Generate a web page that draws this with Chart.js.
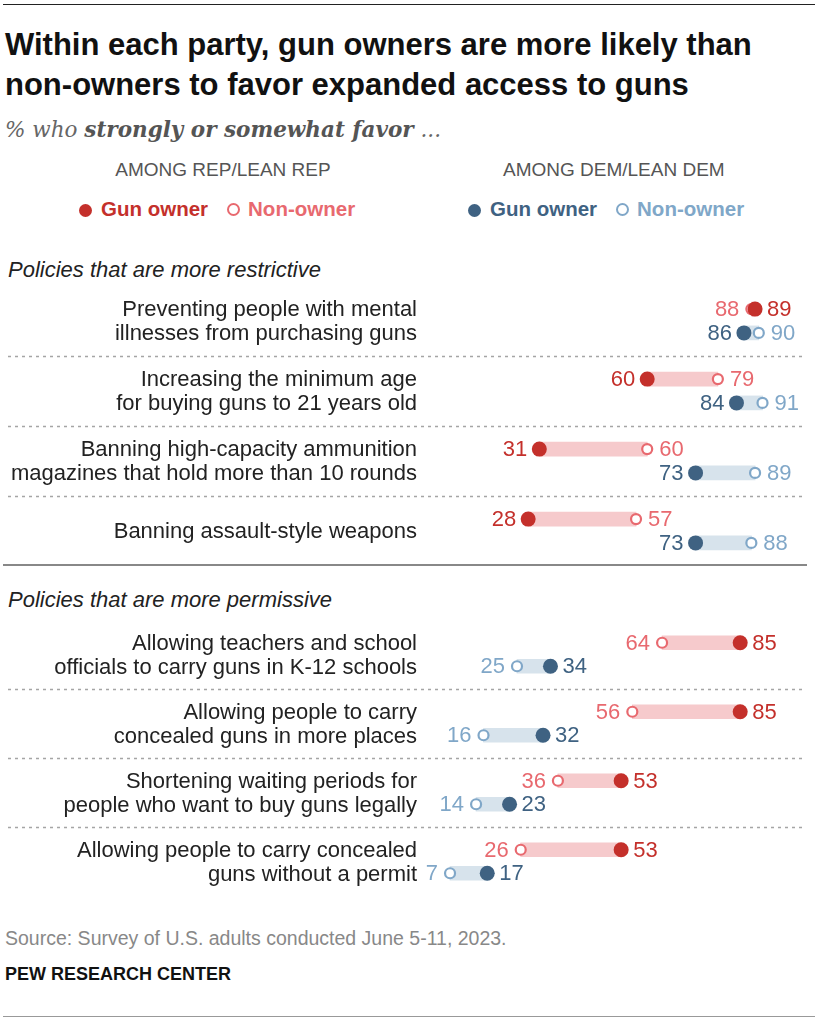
<!DOCTYPE html>
<html>
<head>
<meta charset="utf-8">
<script src="https://cdn.jsdelivr.net/npm/chart.js@4.4.1/dist/chart.umd.min.js"></script>
<style>
  body { margin: 0; background: #fff; }
  #page { position: relative; width: 821px; height: 1022px; overflow: hidden;
          font-family: "Liberation Sans", Arial, sans-serif; color: #222; }
  .t { position: absolute; white-space: nowrap; }
  .rule { position: absolute; left: 3px; width: 812px; }
  .dot { display: inline-block; width: 13px; height: 13px; border-radius: 50%; vertical-align: -1px; margin-right: 9px; }
  .ring { display: inline-block; width: 9px; height: 9px; border-radius: 50%; border: 2px solid; vertical-align: 0px; margin-right: 8px; margin-left: 19px; }
  canvas { position: absolute; left: 0; }
</style>
</head>
<body>
<div id="page">
  <div class="rule" style="top:4px;border-top:1px solid #222;"></div>

  <div class="t" style="left:5px;top:25px;font-weight:bold;font-size:31px;line-height:40px;color:#111;">
    Within each party, gun owners are more likely than<br>non-owners to favor expanded access to guns
  </div>
  <div class="t" style="left:5px;top:116px;line-height:28px;font-family:'DejaVu Serif',Georgia,serif;font-style:italic;font-size:21.5px;color:#666;">
    % who <b style="color:#555;">strongly or somewhat favor</b> ...
  </div>

  <div class="t" style="left:113px;width:220px;text-align:center;top:159px;line-height:22px;font-size:19px;color:#555;">AMONG REP/LEAN REP</div>
  <div class="t" style="left:503px;width:220px;text-align:center;top:159px;line-height:22px;font-size:19px;color:#555;">AMONG DEM/LEAN DEM</div>

  <div class="t" style="left:79px;top:197px;line-height:24px;font-size:20.5px;font-weight:bold;">
    <span class="dot" style="background:#c4302b"></span><span style="color:#c4302b">Gun owner</span><span class="ring" style="border-color:#e8696f"></span><span style="color:#e8696f">Non-owner</span>
  </div>
  <div class="t" style="left:468px;top:197px;line-height:24px;font-size:20.5px;font-weight:bold;">
    <span class="dot" style="background:#3f6282"></span><span style="color:#3f6282">Gun owner</span><span class="ring" style="border-color:#80a7c8"></span><span style="color:#80a7c8">Non-owner</span>
  </div>

  <div class="t" style="left:8px;top:258px;line-height:24px;font-size:22px;font-style:italic;">Policies that are more restrictive</div>
  <canvas id="restrictive" width="821" height="280" style="top:286px;"></canvas>
  <div class="rule" style="top:564px;width:804px;border-top:2px solid #888;"></div>

  <div class="t" style="left:8px;top:588px;line-height:24px;font-size:22px;font-style:italic;">Policies that are more permissive</div>
  <canvas id="permissive" width="821" height="276" style="top:620px;"></canvas>

  <div class="t" style="left:5px;top:927px;line-height:22px;font-size:19.5px;color:#888;">Source: Survey of U.S. adults conducted June 5-11, 2023.</div>
  <div class="t" style="left:5px;top:963px;line-height:22px;font-size:18px;font-weight:bold;color:#111;">PEW RESEARCH CENTER</div>
  <div class="rule" style="top:1016px;border-top:1px solid #999;"></div>
</div>

<script>
// Policies that are more restrictive
const restrictiveLabels = [
    ['Preventing people with mental', 'illnesses from purchasing guns'],
    ['Increasing the minimum age', 'for buying guns to 21 years old'],
    ['Banning high-capacity ammunition', 'magazines that hold more than 10 rounds'],
    ['Banning assault-style weapons']
];
const restrictiveRepOwner = [89, 60, 31, 28];
const restrictiveRepNon = [88, 79, 60, 57];
const restrictiveDemOwner = [86, 84, 73, 73];
const restrictiveDemNon = [90, 91, 89, 88];

// Policies that are more permissive
const permissiveLabels = [
    ['Allowing teachers and school', 'officials to carry guns in K-12 schools'],
    ['Allowing people to carry', 'concealed guns in more places'],
    ['Shortening waiting periods for', 'people who want to buy guns legally'],
    ['Allowing people to carry concealed', 'guns without a permit']
];
const permissiveRepOwner = [85, 85, 53, 53];
const permissiveRepNon = [64, 56, 36, 26];
const permissiveDemOwner = [34, 32, 23, 17];
const permissiveDemNon = [25, 16, 14, 7];

const REP_OWNER = '#c4302b', REP_NON = '#e8696f', REP_BAR = '#f6cacc';
const DEM_OWNER = '#3f6282', DEM_NON = '#80a7c8', DEM_BAR = '#d7e3ec';
const ROW_OFFSET = 0.17;   // Rep row sits above the label center, Dem row below
const BODY_FONT = '"Liberation Sans", Arial, sans-serif';

function points(values, offset) {
    return values.map((v, i) => ({ x: v, y: i + offset }));
}
function spans(a, b, offset) {
    return a.map((v, i) => ({ x: [Math.min(v, b[i]), Math.max(v, b[i])], y: i + offset }));
}

// Policy names, right-aligned against the plot, centered on each pair of rows
const policyLabels = {
    id: 'policyLabels',
    afterDraw(chart, args, opts) {
        const { ctx, scales: { y } } = chart;
        ctx.save();
        ctx.font = '22px ' + BODY_FONT;
        ctx.fillStyle = '#222';
        ctx.textAlign = 'right';
        ctx.textBaseline = 'middle';
        opts.labels.forEach((lines, i) => {
            const cy = y.getPixelForValue(i);
            lines.forEach((line, k) => {
                ctx.fillText(line, 417, cy + (k - (lines.length - 1) / 2) * 24 + 1);
            });
        });
        ctx.restore();
    }
};

// Numbers next to each dot: lower value on the left, higher on the right
const valueLabels = {
    id: 'valueLabels',
    afterDatasetsDraw(chart, args, opts) {
        const { ctx, scales: { x, y } } = chart;
        ctx.save();
        ctx.font = '22px ' + BODY_FONT;
        ctx.textBaseline = 'middle';
        opts.groups.forEach(g => {
            g.owner.forEach((o, i) => {
                const n = g.non[i];
                const py = y.getPixelForValue(i + g.offset);
                const left = o < n ? [o, g.ownerColor] : [n, g.nonColor];
                const right = o < n ? [n, g.nonColor] : [o, g.ownerColor];
                ctx.fillStyle = left[1];
                ctx.textAlign = 'right';
                ctx.fillText(String(left[0]), x.getPixelForValue(left[0]) - 12, py + 1);
                ctx.fillStyle = right[1];
                ctx.textAlign = 'left';
                ctx.fillText(String(right[0]), x.getPixelForValue(right[0]) + 12, py + 1);
            });
        });
        ctx.restore();
    }
};

// Dotted separators between policies
const separators = {
    id: 'separators',
    beforeDatasetsDraw(chart, args, opts) {
        const { ctx, scales: { y } } = chart;
        ctx.save();
        ctx.strokeStyle = '#a5a5a5';
        ctx.lineWidth = 1.5;
        ctx.setLineDash([3, 4]);
        for (let i = 0; i < opts.count - 1; i++) {
            const py = Math.round(y.getPixelForValue(i + 0.5)) + 0.5;
            ctx.beginPath();
            ctx.moveTo(8, py);
            ctx.lineTo(805, py);
            ctx.stroke();
        }
        ctx.restore();
    }
};

function makeChart(id, labels, repOwner, repNon, demOwner, demNon) {
    const dotStyle = (color, order) => ({
        type: 'scatter', order: order, pointRadius: 7.5, pointBorderWidth: 0,
        pointBackgroundColor: color, pointBorderColor: color
    });
    const ringStyle = (color, order) => ({
        type: 'scatter', order: order, pointRadius: 5, pointBorderWidth: 2.2,
        pointBackgroundColor: '#fff', pointBorderColor: color
    });
    const barStyle = (color) => ({
        type: 'bar', indexAxis: 'y', order: 5, grouped: false,
        barThickness: 14, backgroundColor: color, borderWidth: 0
    });

    return new Chart(document.getElementById(id), {
        type: 'scatter',
        data: {
            datasets: [
                { ...barStyle(REP_BAR), data: spans(repOwner, repNon, -ROW_OFFSET) },
                { ...barStyle(DEM_BAR), data: spans(demOwner, demNon, ROW_OFFSET) },
                { ...ringStyle(REP_NON, 3), data: points(repNon, -ROW_OFFSET) },
                { ...ringStyle(DEM_NON, 3), data: points(demNon, ROW_OFFSET) },
                { ...dotStyle(REP_OWNER, 1), data: points(repOwner, -ROW_OFFSET) },
                { ...dotStyle(DEM_OWNER, 1), data: points(demOwner, ROW_OFFSET) }
            ]
        },
        options: {
            responsive: false,
            animation: false,
            events: [],
            layout: { autoPadding: false, padding: { left: 0, right: 25, top: 0, bottom: 0 } },
            scales: {
                x: { type: 'linear', min: 0, max: 100, offset: false, display: false },
                y: {
                    type: 'linear', min: -0.5, max: labels.length - 0.5, reverse: true, offset: false,
                    grid: { display: false, offset: false }, border: { display: false },
                    ticks: { display: false },
                    afterFit: scale => { scale.width = 424; }
                }
            },
            plugins: {
                legend: { display: false },
                tooltip: { enabled: false },
                separators: { count: labels.length },
                policyLabels: { labels: labels },
                valueLabels: {
                    groups: [
                        { owner: repOwner, non: repNon, offset: -ROW_OFFSET, ownerColor: REP_OWNER, nonColor: REP_NON },
                        { owner: demOwner, non: demNon, offset: ROW_OFFSET, ownerColor: DEM_OWNER, nonColor: DEM_NON }
                    ]
                }
            }
        },
        plugins: [separators, valueLabels, policyLabels]
    });
}

makeChart('restrictive', restrictiveLabels, restrictiveRepOwner, restrictiveRepNon, restrictiveDemOwner, restrictiveDemNon);
makeChart('permissive', permissiveLabels, permissiveRepOwner, permissiveRepNon, permissiveDemOwner, permissiveDemNon);
</script>
</body>
</html>
